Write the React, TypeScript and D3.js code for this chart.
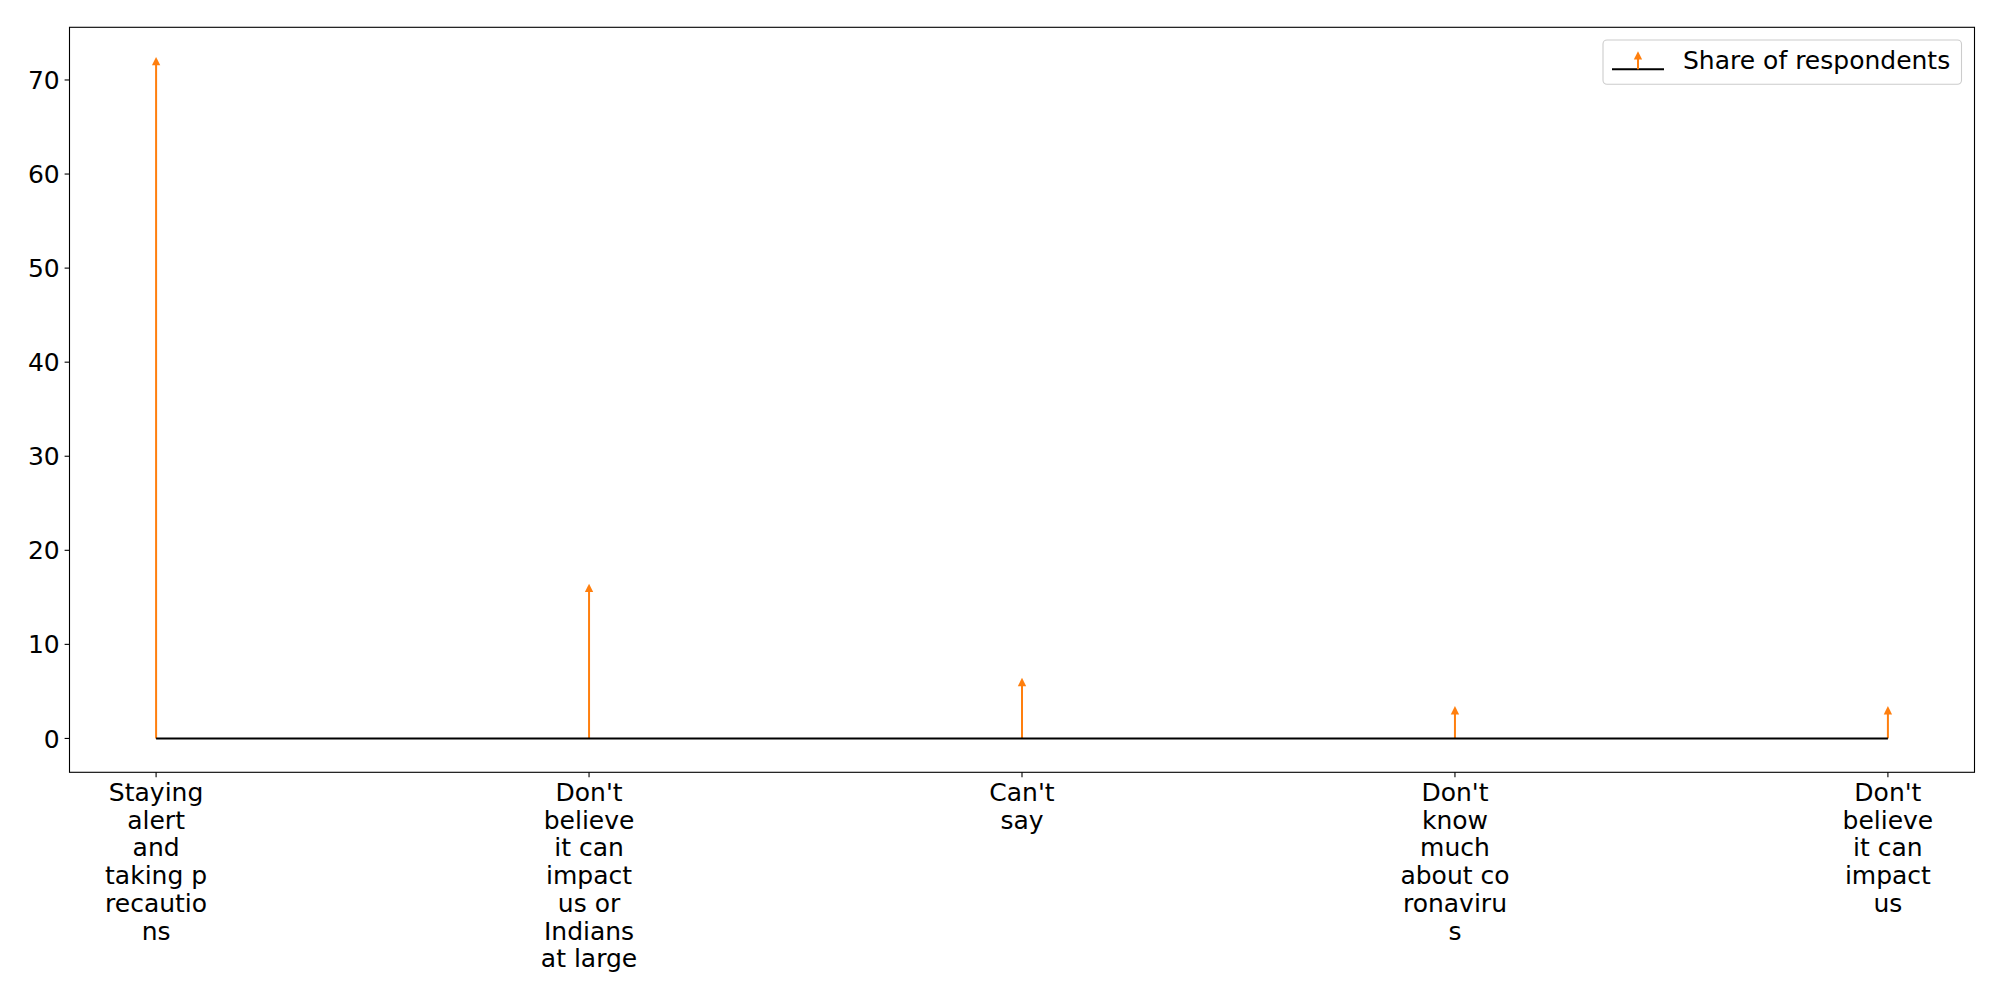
import React from "react";
import * as d3 from "d3";

const categories: string[][] = [
  ["Staying", "alert", "and", "taking p", "recautio", "ns"],
  ["Don't", "believe", "it can", "impact", "us or", "Indians", "at large"],
  ["Can't", "say"],
  ["Don't", "know", "much", "about co", "ronaviru", "s"],
  ["Don't", "believe", "it can", "impact", "us"],
];
const values: number[] = [72, 16, 6, 3, 3];
const yTicks: number[] = [0, 10, 20, 30, 40, 50, 60, 70];
const seriesName = "Share of respondents";

const W = 2000;
const H = 1000;
const left = 69.5;
const right = 1974.5;
const top = 27.3;
const bottom = 772.3;
const FONT = "DejaVu Sans, sans-serif";
const FS = 25;
const ORANGE = "#ff7f0e";

export default function App() {
  const n = values.length;
  const xMin = -0.05 * (n - 1);
  const xMax = (n - 1) * 1.05;
  const x = d3.scaleLinear().domain([xMin, xMax]).range([left, right]);
  const yMaxV = d3.max(values) as number;
  const y = d3
    .scaleLinear()
    .domain([-0.05 * yMaxV, yMaxV * 1.05])
    .range([bottom, top]);
  const ms = 8.33;
  const tri = (cx: number, cy: number) =>
    `M${cx},${cy - ms / 2} L${cx - ms / 2},${cy + ms / 2} L${cx + ms / 2},${cy + ms / 2} Z`;

  const lx0 = 1612, lx1 = 1664, ly = 69.3;

  return (
    <svg
      width={W}
      height={H}
      style={{ position: "absolute", left: 0, top: 0, background: "#fff" }}
      fontFamily={FONT}
    >
      <rect x={0} y={0} width={W} height={H} fill="#fff" />
      {values.map((v, i) => (
        <line
          key={"s" + i}
          x1={x(i)}
          x2={x(i)}
          y1={y(0)}
          y2={y(v)}
          stroke={ORANGE}
          strokeWidth={2}
        />
      ))}
      <line
        x1={x(0)}
        x2={x(n - 1)}
        y1={y(0)}
        y2={y(0)}
        stroke="#000"
        strokeWidth={2.1}
      />
      {values.map((v, i) => (
        <path key={"m" + i} d={tri(x(i), y(v))} fill={ORANGE} />
      ))}
      <rect
        x={left}
        y={top}
        width={right - left}
        height={bottom - top}
        fill="none"
        stroke="#000"
        strokeWidth={1.1}
      />
      {yTicks.map((t) => (
        <g key={"y" + t}>
          <line x1={left - 4.9} x2={left} y1={y(t)} y2={y(t)} stroke="#000" strokeWidth={1.1} />
          <text x={left - 9.8} y={y(t) + 9.1} textAnchor="end" fontSize={FS} fill="#000">
            {t}
          </text>
        </g>
      ))}
      {categories.map((lines, i) => (
        <g key={"x" + i}>
          <line x1={x(i)} x2={x(i)} y1={bottom} y2={bottom + 4.9} stroke="#000" strokeWidth={1.1} />
          {lines.map((ln, j) => (
            <text
              key={j}
              x={x(i)}
              y={801 + j * 27.7}
              textAnchor="middle"
              fontSize={FS}
              fill="#000"
            >
              {ln}
            </text>
          ))}
        </g>
      ))}
      <rect
        x={1603}
        y={40}
        width={358.5}
        height={44.3}
        rx={4}
        ry={4}
        fill="#fff"
        fillOpacity={0.8}
        stroke="#cccccc"
        strokeWidth={1.1}
      />
      <line x1={lx0} x2={lx1} y1={ly} y2={ly} stroke="#000" strokeWidth={2.1} />
      <line x1={(lx0 + lx1) / 2} x2={(lx0 + lx1) / 2} y1={ly} y2={55} stroke={ORANGE} strokeWidth={2} />
      <path d={tri((lx0 + lx1) / 2, 55.4)} fill={ORANGE} />
      <text x={1683} y={ly} fontSize={FS} fill="#000">
        {seriesName}
      </text>
    </svg>
  );
}
